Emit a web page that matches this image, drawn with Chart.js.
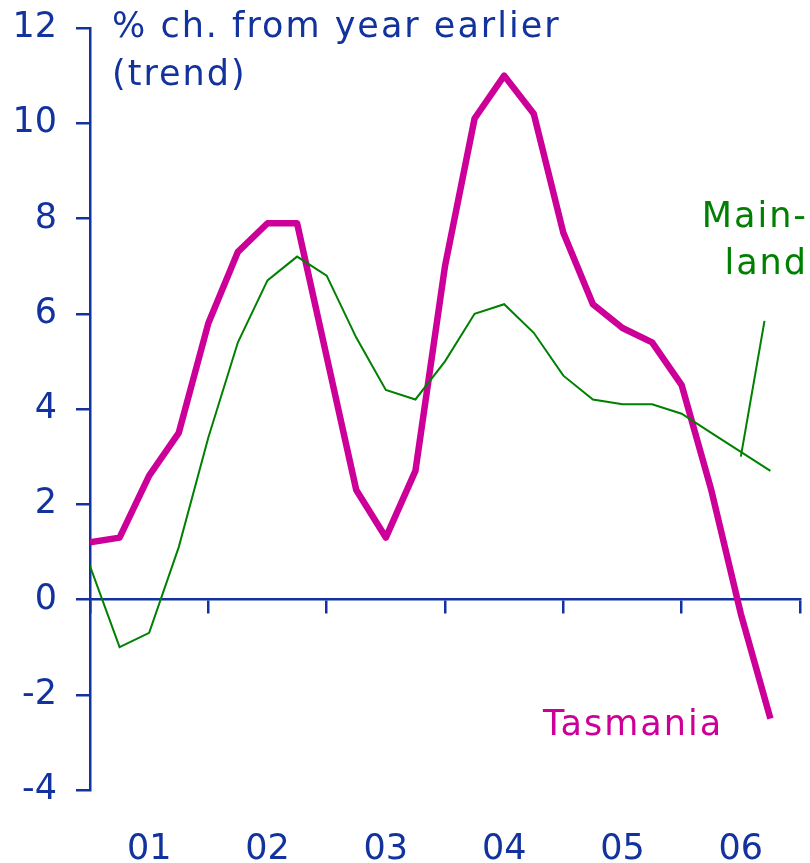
<!DOCTYPE html>
<html lang="en">
<head>
  <meta charset="UTF-8" />
  <title>Tasmania vs Mainland</title>
  <script src="https://cdn.jsdelivr.net/npm/chart.js"></script>
  <style>
    html, body { margin: 0; padding: 0; background: #fff; }
    #wrap { width: 810px; height: 863px; position: relative; }
  </style>
</head>
<body>
  <div id="wrap"><canvas id="chart"></canvas></div>

  <script>
    // quarter index 0..23 (first quarter of 2001 sits on the y axis)
    const quarters = Array.from({ length: 24 }, (_, i) => i);
    const yearLabels = ["01", "02", "03", "04", "05", "06"];

    const tasmania = [1.2, 1.3, 2.6, 3.5, 5.8, 7.3, 7.9, 7.9, 5.1, 2.3, 1.3, 2.7,
                      7.0, 10.1, 11.0, 10.2, 7.7, 6.2, 5.7, 5.4, 4.5, 2.3, -0.3, -2.5];
    const mainland = [0.7, -1.0, -0.7, 1.1, 3.4, 5.4, 6.7, 7.2, 6.8, 5.5, 4.4, 4.2,
                      5.0, 6.0, 6.2, 5.6, 4.7, 4.2, 4.1, 4.1, 3.9, 3.5, 3.1, 2.7];
    // leader line from the "Main-land" label down to the series
    const leaderX = [22.0, 22.8];
    const leaderY = [3.0, 5.85];

    const BLUE = "#12339e";
    const MAGENTA = "#cc0099";
    const GREEN = "#008000";
    const FONT = "'DejaVu Sans', Verdana, sans-serif";

    const labelsPlugin = {
      id: "labels",
      afterDraw(chart) {
        const ctx = chart.ctx;
        ctx.save();
        ctx.font = "35px " + FONT;
        ctx.textBaseline = "alphabetic";
        ctx.letterSpacing = "2px";
        ctx.fillStyle = BLUE;
        ctx.textAlign = "left";
        ctx.fillText("% ch. from year earlier", 112, 37);
        ctx.fillText("(trend)", 112, 85);
        ctx.fillStyle = GREEN;
        ctx.textAlign = "right";
        ctx.fillText("Main-", 808, 227);
        ctx.fillText("land", 808, 274);
        ctx.fillStyle = MAGENTA;
        ctx.textAlign = "left";
        ctx.fillText("Tasmania", 543, 735);
        ctx.restore();
      }
    };

    function noSidePadding(scale) {
      scale.paddingLeft = 0;
      scale.paddingRight = 0;
    }

    const ctx = document.getElementById("chart").getContext("2d");
    new Chart(ctx, {
      type: "line",
      data: {
        datasets: [
          {
            label: "Mainland",
            data: quarters.map(i => ({ x: i, y: mainland[i] })),
            borderColor: GREEN,
            borderWidth: 2,
            pointRadius: 0,
            tension: 0
          },
          {
            label: "leader",
            data: leaderX.map((x, i) => ({ x, y: leaderY[i] })),
            borderColor: GREEN,
            borderWidth: 2,
            pointRadius: 0
          },
          {
            label: "Tasmania",
            data: quarters.map(i => ({ x: i, y: tasmania[i] })),
            borderColor: MAGENTA,
            borderWidth: 6.5,
            pointRadius: 0,
            tension: 0,
            borderJoinStyle: "round"
          }
        ]
      },
      options: {
        responsive: true,
        maintainAspectRatio: false,
        animation: false,
        layout: { padding: { top: 28, right: 10, left: 0, bottom: 0 } },
        plugins: {
          legend: { display: false },
          tooltip: { enabled: false }
        },
        scales: {
          x: {
            type: "linear",
            position: { y: 0 },
            min: 0,
            max: 24,
            afterFit: noSidePadding,
            border: { color: BLUE, width: 2.5 },
            grid: {
              drawOnChartArea: false,
              drawTicks: true,
              tickLength: 13,
              lineWidth: 2.5,
              tickColor: BLUE
            },
            ticks: { stepSize: 4, callback: () => "", font: { size: 2 } }
          },
          x2: {
            type: "linear",
            position: "bottom",
            min: 0,
            max: 24,
            border: { display: false },
            grid: { display: false, drawTicks: false },
            afterFit(scale) { scale.height = 73; noSidePadding(scale); },
            ticks: {
              stepSize: 2,
              autoSkip: false,
              maxRotation: 0,
              padding: 39,
              color: BLUE,
              font: { family: FONT, size: 35 },
              callback: v => (v % 4 === 2 ? yearLabels[(v - 2) / 4] : "")
            }
          },
          y: {
            min: -4,
            max: 12,
            afterFit(scale) {
              scale.width = 90;
              scale.paddingTop = 0;
              scale.paddingBottom = 0;
            },
            border: { color: BLUE, width: 2.5 },
            grid: {
              drawOnChartArea: false,
              tickLength: 14,
              lineWidth: 2.5,
              tickColor: BLUE
            },
            ticks: {
              stepSize: 2,
              padding: 19,
              color: BLUE,
              font: { family: FONT, size: 35 }
            }
          }
        }
      },
      plugins: [labelsPlugin]
    });
  </script>
</body>
</html>
